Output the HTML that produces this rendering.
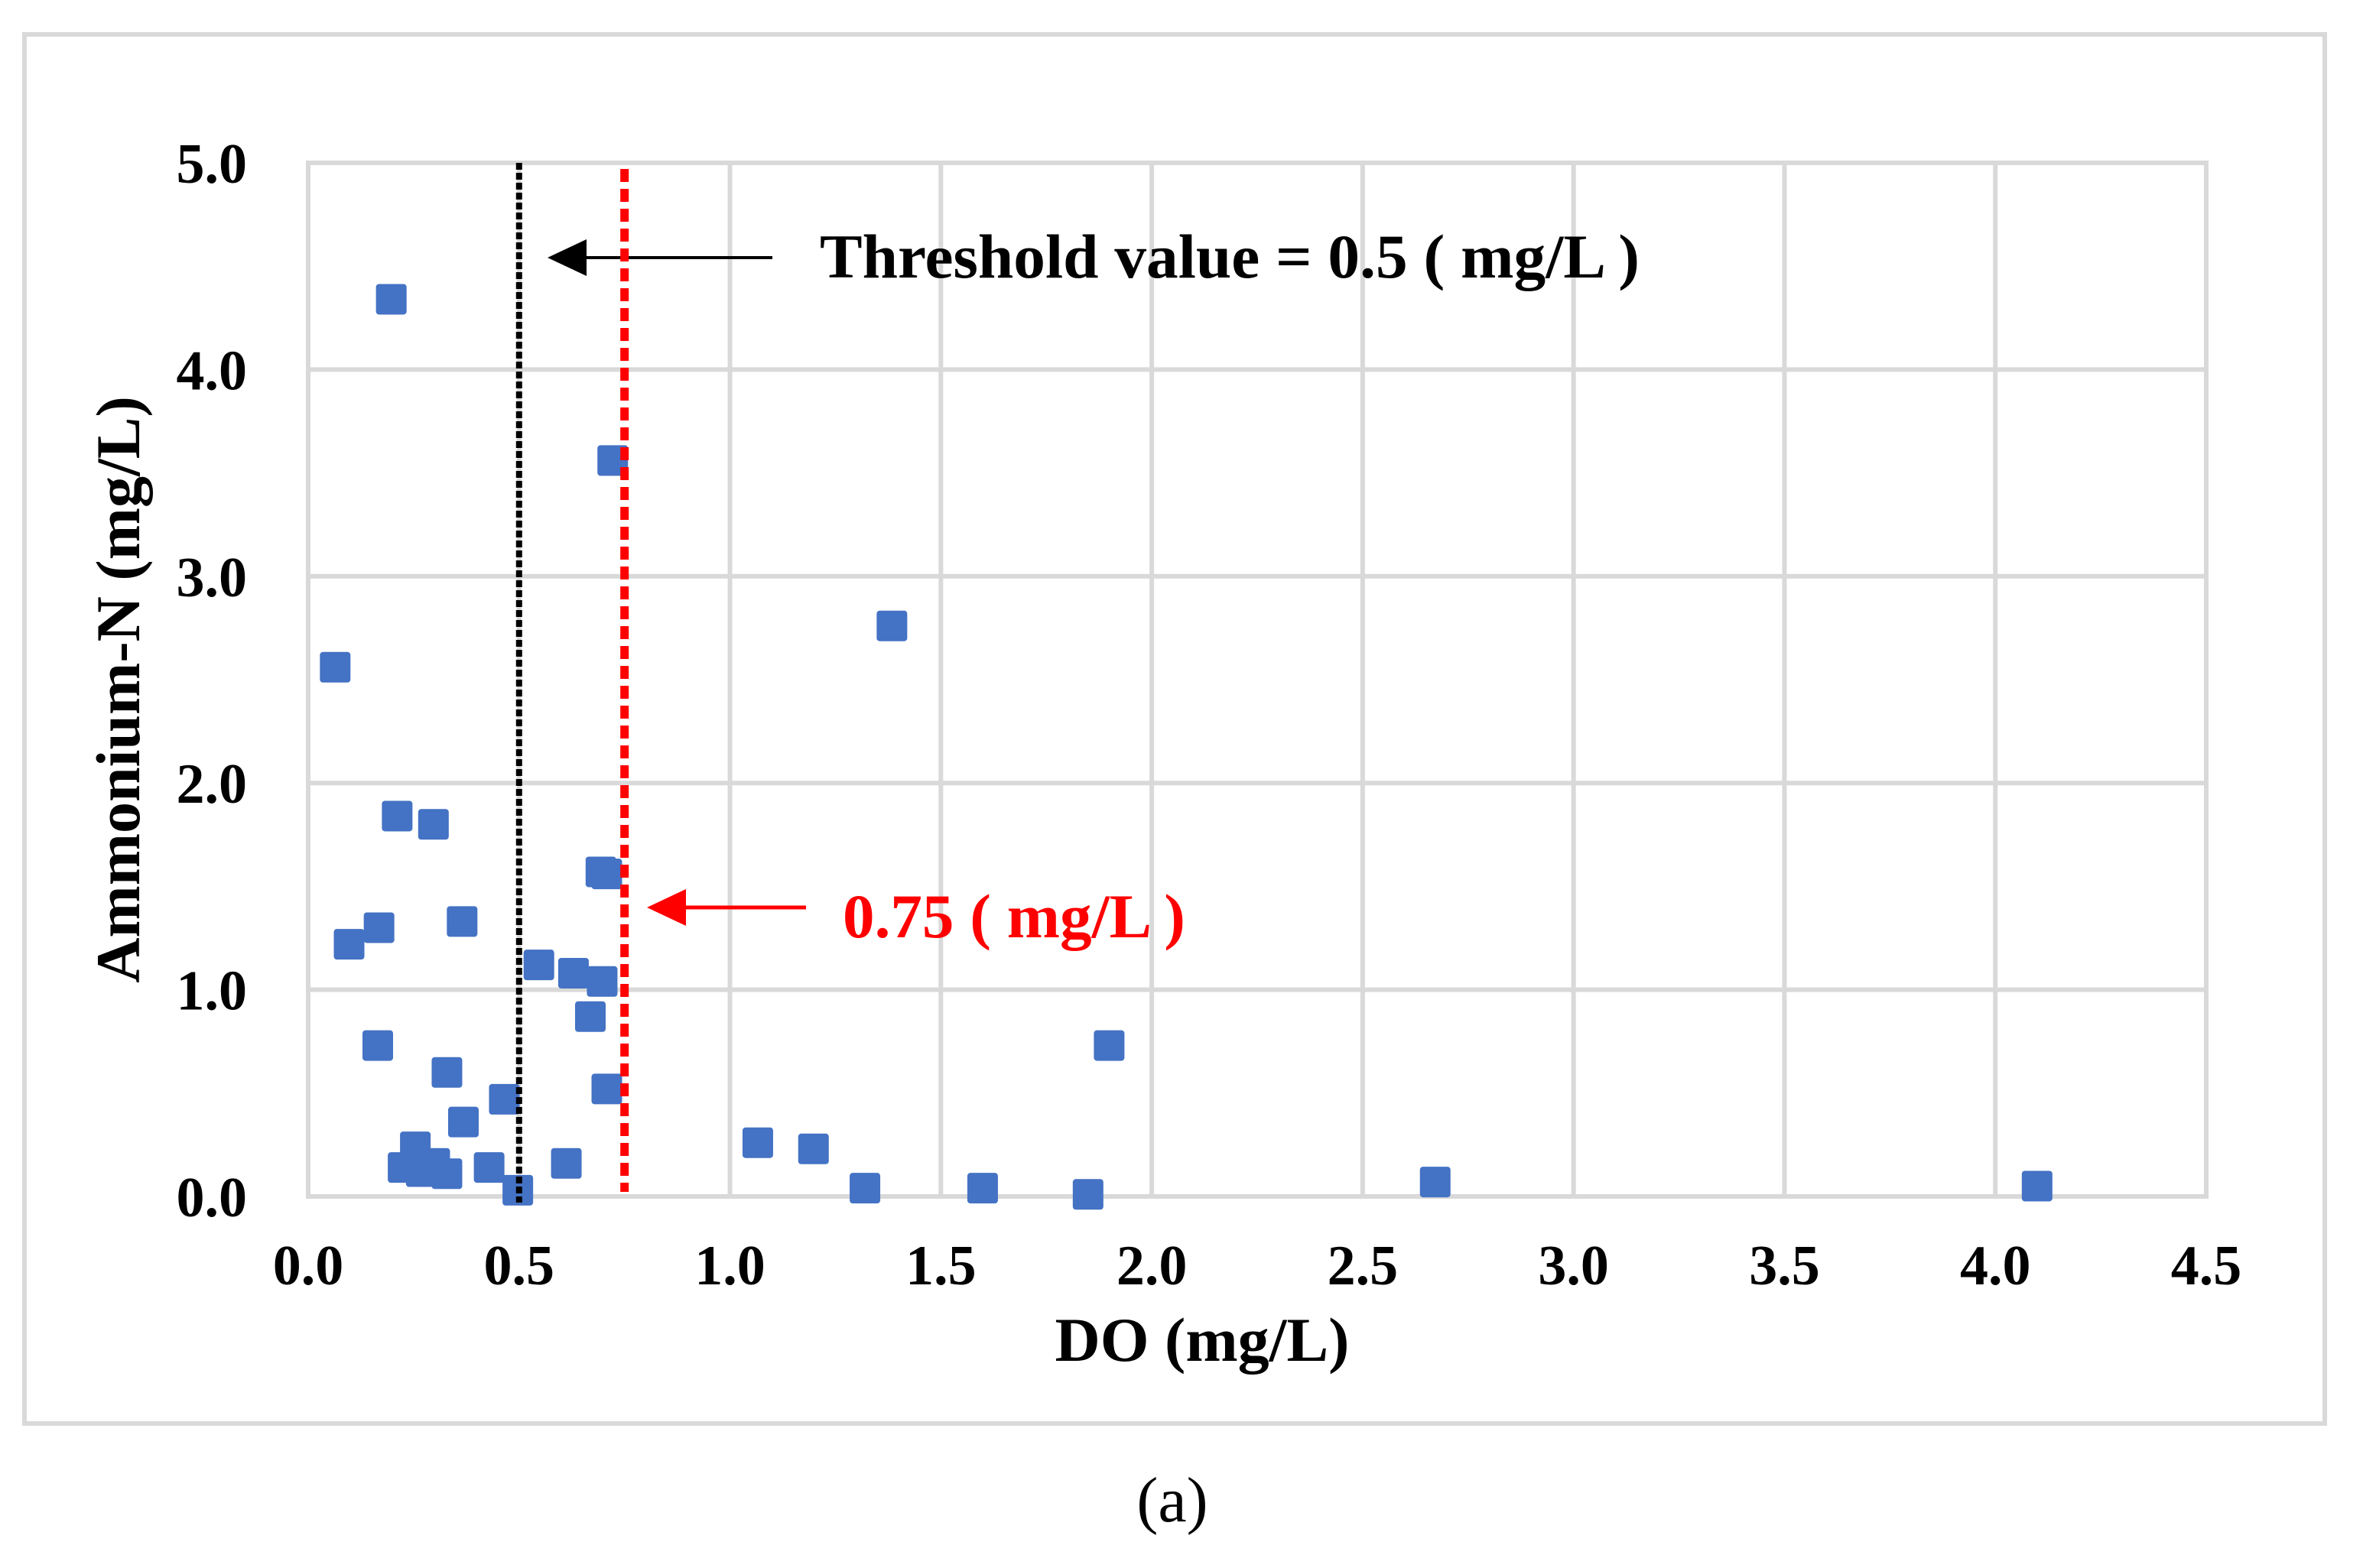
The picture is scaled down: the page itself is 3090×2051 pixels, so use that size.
<!DOCTYPE html>
<html><head><meta charset="utf-8"><style>
html,body{margin:0;padding:0;background:#fff;}
svg{display:block;}
text{font-family:"Liberation Serif",serif;}
</style></head><body>
<svg id="chart" width="3090" height="2051" viewBox="0 0 3090 2051" xmlns="http://www.w3.org/2000/svg">
<rect x="32" y="45" width="3008" height="1817" fill="#fff" stroke="#d9d9d9" stroke-width="6"/>
<g id="grid"></g>
<g id="ticks"></g>
<g id="refs"></g>
<g id="points"></g>
<text x="1572" y="1780" text-anchor="middle" font-size="82" font-weight="bold">DO (mg/L)</text>
<text transform="translate(182,902) rotate(-90)" text-anchor="middle" font-size="82" font-weight="bold">Ammonium-N (mg/L)</text>
<line x1="1010" y1="337" x2="760" y2="337" stroke="#000" stroke-width="4"/>
<polygon points="716,337 767,313 767,361" fill="#000"/>
<text x="1072" y="363" font-size="82" font-weight="bold" textLength="1072" lengthAdjust="spacingAndGlyphs">Threshold value = 0.5 ( mg/L )</text>
<line x1="1054" y1="1187" x2="890" y2="1187" stroke="#ff0000" stroke-width="5"/>
<polygon points="846,1187 897,1163 897,1211" fill="#ff0000"/>
<text x="1102" y="1226" font-size="82" font-weight="bold" fill="#ff0000" textLength="448" lengthAdjust="spacingAndGlyphs">0.75 ( mg/L )</text>
<text x="1533" y="1990" text-anchor="middle" font-size="84">(a)</text>
</svg>
<script>
const xTicks = [0,0.5,1.0,1.5,2.0,2.5,3.0,3.5,4.0,4.5];
const yTicks = [0,1,2,3,4,5];
const doValues = [0.197,0.722,0.064,1.384,0.211,0.297,0.694,0.708,0.097,0.168,0.365,0.547,0.629,0.697,0.669,0.165,1.899,0.329,0.465,0.708,0.368,0.254,0.225,0.268,0.300,0.329,0.429,0.497,0.612,1.066,1.198,1.320,1.599,1.849,2.672,4.099];
const nh4Values = [4.34,3.56,2.56,2.76,1.84,1.80,1.57,1.56,1.22,1.30,1.33,1.12,1.08,1.04,0.87,0.73,0.73,0.60,0.47,0.52,0.36,0.24,0.14,0.12,0.16,0.11,0.14,0.03,0.16,0.26,0.23,0.04,0.04,0.01,0.07,0.05];
const refLines = [0.5,0.75];
const NS="http://www.w3.org/2000/svg";
const X0=403,X1=2885,Y0=1565,Y1=213;
function sx(v){return X0+(v-0)/(4.5-0)*(X1-X0);}
function sy(v){return Y0-(v-0)/(5-0)*(Y0-Y1);}
function mk(tag,attrs,parent){const e=document.createElementNS(NS,tag);for(const k in attrs)e.setAttribute(k,attrs[k]);parent.appendChild(e);return e;}
const grid=document.getElementById('grid'),ticks=document.getElementById('ticks'),refs=document.getElementById('refs'),pts=document.getElementById('points');
xTicks.forEach(t=>{
  const l=mk('line',{x1:sx(t),x2:sx(t),y1:Y1,y2:Y0,stroke:'#d9d9d9','stroke-width':6},grid);
  
  
  const tx=mk('text',{x:sx(t),y:1680,'text-anchor':'middle','font-size':74,'font-weight':'bold'},ticks);
  tx.textContent=t.toFixed(1);
  
  
});
yTicks.forEach(t=>{
  const l=mk('line',{x1:X0-3,x2:X1+3,y1:sy(t),y2:sy(t),stroke:'#d9d9d9','stroke-width':6},grid);
  
  
  const tx=mk('text',{x:323,y:sy(t)+26,'text-anchor':'end','font-size':74,'font-weight':'bold'},ticks);
  tx.textContent=t.toFixed(1);
  
  
});
const b=mk('line',{x1:sx(refLines[0]),x2:sx(refLines[0]),y1:Y1,y2:Y0+8,stroke:'#000','stroke-width':8,'stroke-dasharray':'9 4'},refs);


doValues.forEach((d,i)=>{
  const r=mk('rect',{x:sx(d)-20,y:sy(nh4Values[i])-20,width:40,height:40,rx:4,fill:'#4472c4'},pts);
  
  
});
const rl=mk('line',{x1:sx(refLines[1]),x2:sx(refLines[1]),y1:Y1+8,y2:Y0-6,stroke:'#ff0000','stroke-width':11,'stroke-dasharray':'17 9'},refs);


refs.parentNode.appendChild(refs);
</script>
</body></html>
